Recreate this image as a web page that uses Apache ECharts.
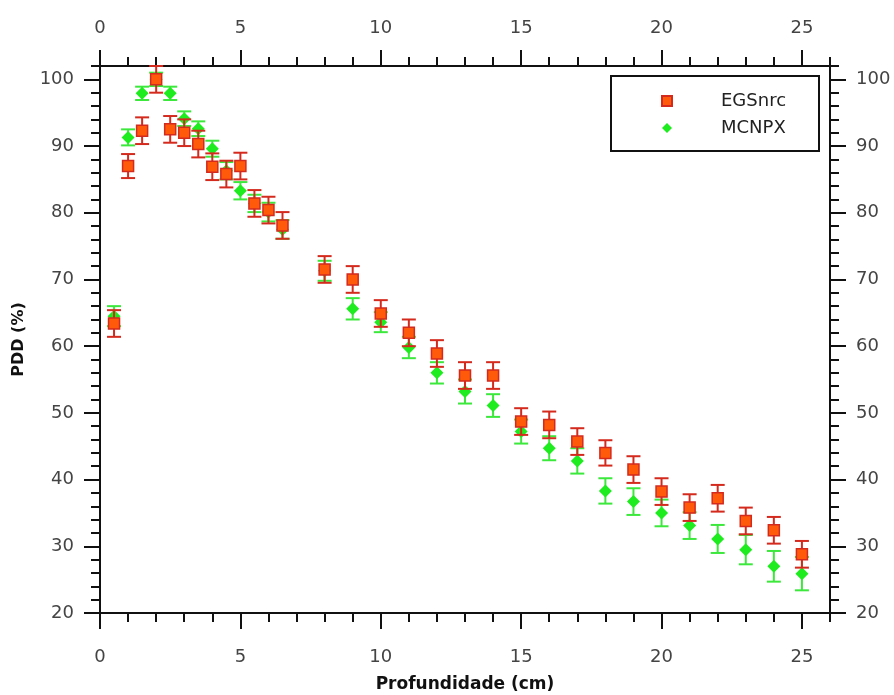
<!DOCTYPE html>
<html>
<head>
<meta charset="utf-8">
<script src="https://cdn.jsdelivr.net/npm/echarts@6/dist/echarts.min.js"></script>
<style>
  html, body { margin: 0; padding: 0; background: #fff; }
  #chart { width: 894px; height: 695px; }
</style>
</head>
<body>
<div id="chart"></div>
<script>
// profundidade (cm)
var depth = [0.5, 1, 1.5, 2, 2.5, 3, 3.5, 4, 4.5, 5, 5.5, 6, 6.5, 8, 9, 10, 11, 12, 13, 14, 15, 16, 17, 18, 19, 20, 21, 22, 23, 24, 25];
// PDD (%) EGSnrc
var egs = [63.4, 87.0, 92.3, 100.0, 92.5, 92.0, 90.3, 86.9, 85.8, 87.0, 81.4, 80.4, 78.1, 71.5, 70.0, 64.9, 62.0, 58.9, 55.6, 55.6, 48.7, 48.2, 45.7, 44.0, 41.5, 38.2, 35.8, 37.2, 33.8, 32.4, 28.8];
var egsErr = [2.0, 1.8, 2.0, 2.0, 2.0, 2.0, 2.0, 2.0, 2.0, 2.0, 2.0, 2.0, 2.0, 2.0, 2.0, 2.0, 2.0, 2.0, 2.0, 2.0, 2.0, 2.0, 2.0, 1.9, 2.0, 2.0, 2.0, 2.0, 2.0, 2.0, 2.0];
// PDD (%) MCNPX
var mcnp = [64.5, 91.3, 97.9, 100.0, 97.9, 94.1, 92.6, 89.6, 86.3, 83.3, 81.4, 80.1, 77.5, 71.3, 65.6, 63.6, 59.8, 56.0, 53.2, 51.1, 47.2, 44.7, 42.8, 38.3, 36.7, 35.0, 33.1, 31.1, 29.5, 27.0, 25.9];
var mcnpErr = [1.5, 1.2, 1.0, 1.0, 1.0, 1.1, 1.1, 1.2, 1.3, 1.3, 1.3, 1.4, 1.4, 1.5, 1.6, 1.5, 1.6, 1.6, 1.8, 1.7, 1.8, 1.8, 1.9, 1.9, 2.0, 2.0, 2.0, 2.1, 2.2, 2.3, 2.5];

var xTicks = [0, 5, 10, 15, 20, 25];
var xMinor = [0, 1, 2, 3, 4, 5, 6, 7, 8, 9, 10, 11, 12, 13, 14, 15, 16, 17, 18, 19, 20, 21, 22, 23, 24, 25, 26];
var yTicks = [20, 30, 40, 50, 60, 70, 80, 90, 100];
var yMinor = [20, 22, 24, 26, 28, 30, 32, 34, 36, 38, 40, 42, 44, 46, 48, 50, 52, 54, 56, 58, 60, 62, 64, 66, 68, 70, 72, 74, 76, 78, 80, 82, 84, 86, 88, 90, 92, 94, 96, 98, 100, 102];

var chart = echarts.init(document.getElementById('chart'));
var FONT = 'DejaVu Sans';

function pts(ys) {
  var out = [];
  for (var i = 0; i < depth.length; i++) out.push([depth[i], ys[i]]);
  return out;
}
function bars(ys, es) {
  var out = [];
  for (var i = 0; i < depth.length; i++) out.push([depth[i], ys[i] - es[i], ys[i] + es[i]]);
  return out;
}
function errorItem(color) {
  return function (params, api) {
    var x = api.value(0);
    var top = api.coord([x, api.value(2)]);
    var bot = api.coord([x, api.value(1)]);
    var w = 7;
    var st = { stroke: color, lineWidth: 2 };
    return {
      type: 'group',
      children: [
        { type: 'line', shape: { x1: top[0], y1: top[1], x2: bot[0], y2: bot[1] }, style: st },
        { type: 'line', shape: { x1: top[0] - w, y1: top[1], x2: top[0] + w, y2: top[1] }, style: st },
        { type: 'line', shape: { x1: bot[0] - w, y1: bot[1], x2: bot[0] + w, y2: bot[1] }, style: st }
      ]
    };
  };
}

function xAx(pos, major, showName) {
  return {
    type: 'value', position: pos, min: 0, max: 26,
    name: showName ? 'Profundidade (cm)' : '', nameLocation: 'middle', nameGap: 63,
    nameTextStyle: { fontFamily: FONT, fontWeight: 'bold', fontSize: 17, color: '#111' },
    axisLine: { show: major, onZero: false, lineStyle: { color: '#111', width: 2 } },
    axisTick: { show: true, length: major ? 16 : 9, customValues: major ? xTicks : xMinor, lineStyle: { color: '#111', width: 2 } },
    axisLabel: { show: major, customValues: xTicks, margin: pos == 'top' ? 29 : 35, fontFamily: FONT, fontSize: 18, color: '#444' },
    splitLine: { show: false }
  };
}
function yAx(pos, major, showName) {
  return {
    type: 'value', position: pos, min: 20, max: 102,
    name: showName ? 'PDD (%)' : '', nameLocation: 'middle', nameGap: 73,
    nameTextStyle: { fontFamily: FONT, fontWeight: 'bold', fontSize: 16, color: '#111' },
    axisLine: { show: major, onZero: false, lineStyle: { color: '#111', width: 2 } },
    axisTick: { show: true, length: major ? 16 : 9, customValues: major ? yTicks : yMinor, lineStyle: { color: '#111', width: 2 } },
    axisLabel: { show: major, customValues: yTicks, margin: 26, fontFamily: FONT, fontSize: 18, color: '#444' },
    splitLine: { show: false }
  };
}

var option = {
  backgroundColor: '#fff',
  animation: false,
  grid: { left: 100, right: 64, top: 66, bottom: 82, containLabel: false, outerBoundsMode: 'none' },
  xAxis: [xAx('bottom', true, true), xAx('top', true, false), xAx('bottom', false, false), xAx('top', false, false)],
  yAxis: [yAx('left', true, true), yAx('right', true, false), yAx('left', false, false), yAx('right', false, false)],
  graphic: [{
    type: 'rect', left: 610, top: 75, z: 10,
    shape: { width: 208, height: 75 },
    style: { fill: '#fff', stroke: '#111', lineWidth: 2 }
  }],
  legend: {
    orient: 'vertical', left: 661, top: 92, z: 20, padding: 0,
    itemWidth: 10, itemHeight: 10, itemGap: 9,
    data: ['EGSnrc', 'MCNPX'],
    textStyle: { fontFamily: FONT, fontSize: 18, color: '#222', lineHeight: 18, padding: [0, 0, 0, 44] }
  },
  series: [
    {
      name: 'MCNPX-err', type: 'custom', renderItem: errorItem('#3de83d'),
      encode: { x: 0, y: [1, 2] }, data: bars(mcnp, mcnpErr), z: 2
    },
    {
      name: 'MCNPX', type: 'scatter', data: pts(mcnp), symbol: 'diamond', symbolSize: [13, 13],
      itemStyle: { color: '#1fec1f', opacity: 1 }, z: 3
    },
    {
      name: 'EGSnrc-err', type: 'custom', renderItem: errorItem('#d42a1e'),
      encode: { x: 0, y: [1, 2] }, data: bars(egs, egsErr), z: 4
    },
    {
      name: 'EGSnrc', type: 'scatter', data: pts(egs), symbol: 'rect', symbolSize: 11,
      itemStyle: { color: '#ff5a0a', borderColor: '#d42a1e', borderWidth: 1.5, opacity: 1 }, z: 5
    }
  ]
};
chart.setOption(option);
</script>
</body>
</html>
